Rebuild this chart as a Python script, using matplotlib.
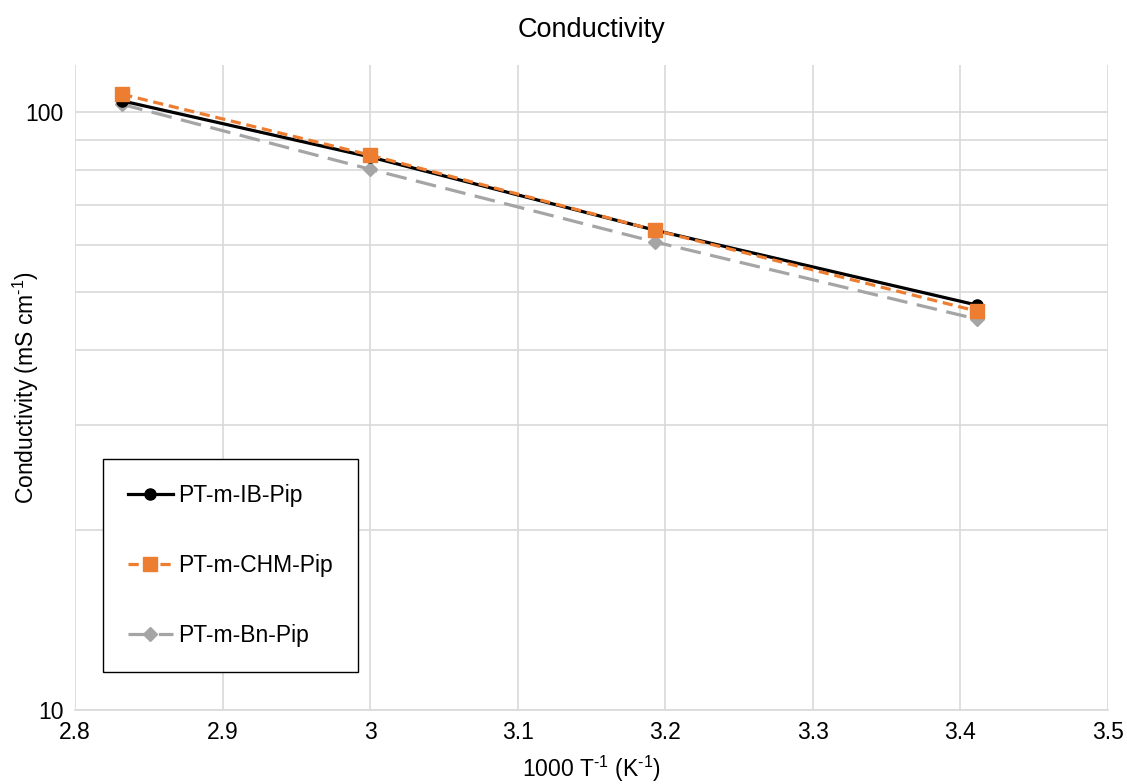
import matplotlib
matplotlib.use("Agg")
import matplotlib.pyplot as plt
from matplotlib.ticker import FixedLocator, NullFormatter, FixedFormatter

plt.rcParams['font.family'] = ['Liberation Sans', 'DejaVu Sans']
plt.rcParams['mathtext.fontset'] = 'custom'
plt.rcParams['mathtext.rm'] = 'Liberation Sans'
plt.rcParams['mathtext.it'] = 'Liberation Sans'
plt.rcParams['mathtext.default'] = 'regular'

x = [2.832, 3.0, 3.193, 3.411]
ib_pip = [104.5, 84.2, 63.5, 47.6]
chm_pip = [107.2, 84.8, 63.5, 46.5]
bn_pip = [103.1, 80.3, 60.7, 45.1]

fig = plt.figure(figsize=(11.27, 7.84), dpi=100)
ax = fig.add_axes([75/1127, 1-710/784, 1033/1127, 645/784])

grid_c = '#d9d9d9'
ax.plot(x, ib_pip, color='black', lw=2.3, marker='o', ms=8, label='PT-m-IB-Pip', zorder=3)
ax.plot(x, chm_pip, color='#ED7D31', lw=2.3, ls=(0, (3.2, 1.8)), marker='s', ms=10, label='PT-m-CHM-Pip', zorder=4)
ax.plot(x, bn_pip, color='#A5A5A5', lw=2.3, ls=(0, (6.5, 3)), marker='D', ms=7.5, label='PT-m-Bn-Pip', zorder=2)

ax.set_yscale('log')
ax.set_ylim(10, 120)
ax.set_xlim(2.8, 3.5)
ax.set_xticks([2.8, 2.9, 3.0, 3.1, 3.2, 3.3, 3.4, 3.5])
ax.set_xticklabels(['2.8', '2.9', '3', '3.1', '3.2', '3.3', '3.4', '3.5'])
ax.yaxis.set_major_locator(FixedLocator([10, 100]))
ax.yaxis.set_major_formatter(FixedFormatter(['10', '100']))
ax.yaxis.set_minor_locator(FixedLocator([20, 30, 40, 50, 60, 70, 80, 90]))
ax.yaxis.set_minor_formatter(NullFormatter())

ax.grid(True, which='major', color=grid_c, lw=1.2)
ax.grid(True, which='minor', axis='y', color=grid_c, lw=1.2)
ax.set_axisbelow(True)
for s in ['top', 'right', 'left']:
    ax.spines[s].set_visible(False)
ax.spines['bottom'].set_color(grid_c)
ax.spines['bottom'].set_linewidth(1.2)
ax.tick_params(which='both', length=0, labelsize=16.5, colors='black', pad=8)

ax.set_title('Conductivity', fontsize=19.5, pad=20)
ax.set_xlabel(r'1000 T$^{\text{-}1}$ (K$^{\text{-}1}$)', fontsize=16.5, labelpad=7)
ax.set_ylabel(r'Conductivity (mS cm$^{\text{-}1}$)', fontsize=16.5)
ax.yaxis.set_label_coords(-0.033, 0.5)

leg = ax.legend(loc='lower left', bbox_to_anchor=(0.027, 0.059), fontsize=16.5,
                frameon=True, fancybox=False, edgecolor='black', framealpha=1,
                handlelength=1.95, handletextpad=0.22, labelspacing=2.05,
                borderpad=1.1, borderaxespad=0)
leg.get_frame().set_linewidth(1.0)

fig.savefig('out.png', dpi=100)
